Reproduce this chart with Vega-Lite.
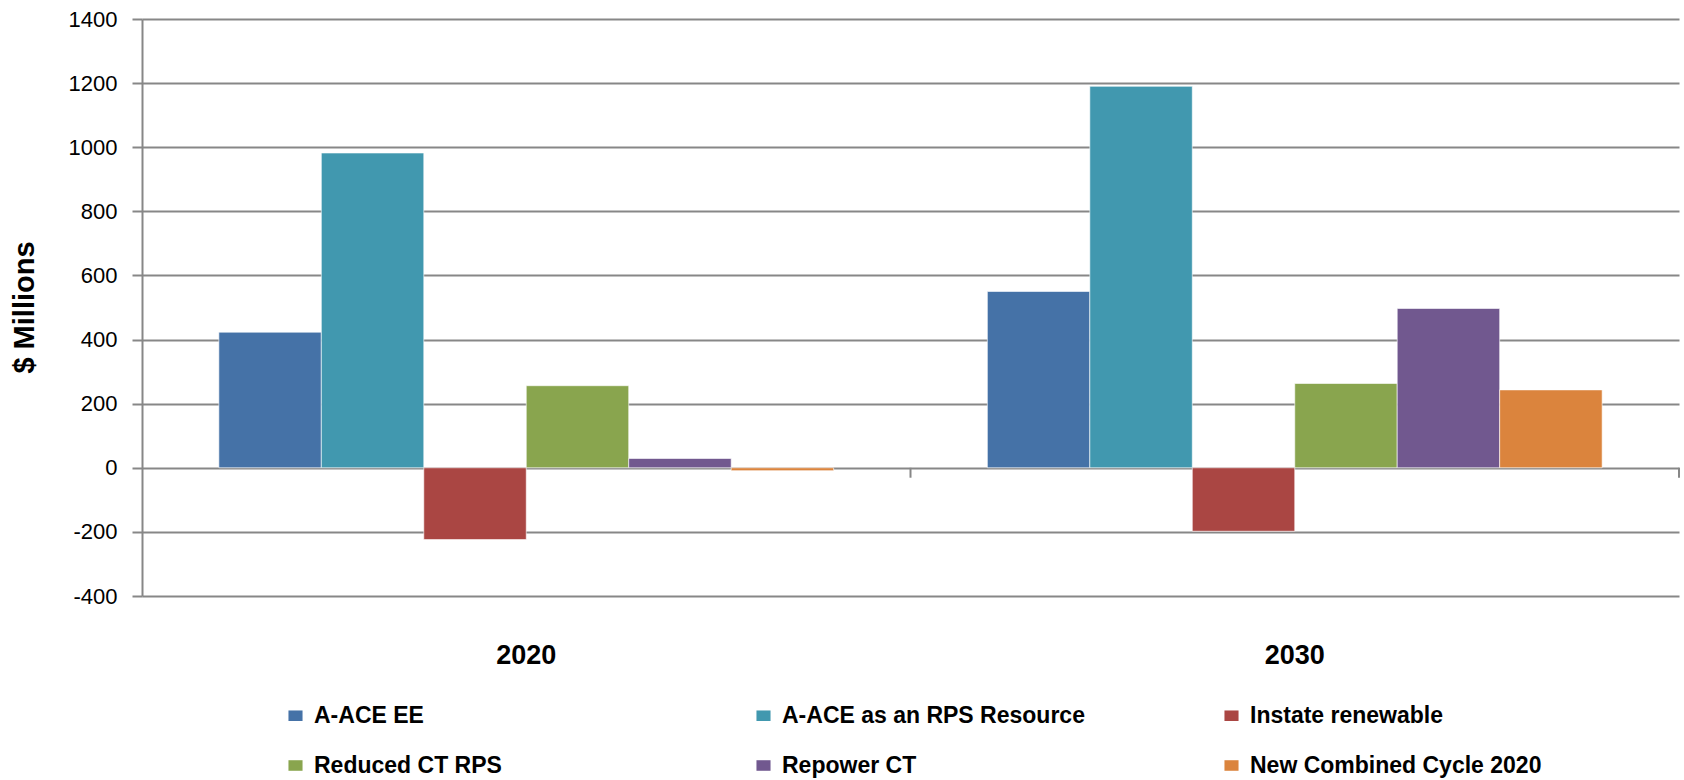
{
  "$schema": "https://vega.github.io/schema/vega-lite/v6.json",
  "width": 1537,
  "height": 577,
  "autosize": {"type": "none"},
  "padding": {"left": 142, "top": 19, "right": 5, "bottom": 184},
  "background": "white",
  "config": {
    "font": "Liberation Sans",
    "view": {"stroke": null},
    "axis": {"labelColor": "#000000", "titleColor": "#000000"},
    "axisX": {"domain": false, "ticks": false, "tickSize": 0, "grid": false, "labelPadding": 46, "labelFontSize": 27, "labelFontWeight": "bold", "labelAngle": 0}
  },
  "data": {
    "values": [
      {"year": "2020", "series": "A-ACE EE", "value": 423},
      {"year": "2020", "series": "A-ACE as an RPS Resource", "value": 982},
      {"year": "2020", "series": "Instate renewable", "value": -224},
      {"year": "2020", "series": "Reduced CT RPS", "value": 256},
      {"year": "2020", "series": "Repower CT", "value": 29},
      {"year": "2020", "series": "New Combined Cycle  2020", "value": -9},
      {"year": "2030", "series": "A-ACE EE", "value": 550},
      {"year": "2030", "series": "A-ACE as an RPS Resource", "value": 1190},
      {"year": "2030", "series": "Instate renewable", "value": -198},
      {"year": "2030", "series": "Reduced CT RPS", "value": 263},
      {"year": "2030", "series": "Repower CT", "value": 497},
      {"year": "2030", "series": "New Combined Cycle  2020", "value": 243}
    ]
  },
  "layer": [
    {
      "mark": {"type": "bar", "stroke": "#ffffff", "strokeWidth": 1, "strokeOpacity": 0.6},
      "encoding": {
        "x": {"field": "year", "type": "nominal", "title": null, "scale": {"paddingInner": 0.2, "paddingOuter": 0.1}},
        "xOffset": {"field": "series", "type": "nominal", "sort": ["A-ACE EE", "A-ACE as an RPS Resource", "Instate renewable", "Reduced CT RPS", "Repower CT", "New Combined Cycle  2020"], "scale": {"paddingInner": 0, "paddingOuter": 0}},
        "y": {
          "field": "value", "type": "quantitative", "title": "$ Millions",
          "scale": {"domain": [-400, 1400], "nice": false, "zero": false},
          "axis": {
            "values": [-400, -200, 0, 200, 400, 600, 800, 1000, 1200, 1400],
            "labelExpr": "datum.value + ''",
            "domainColor": "#878787", "domainWidth": 2,
            "tickColor": "#878787", "tickWidth": 2, "tickSize": 10,
            "gridColor": "#878787", "gridWidth": 2,
            "labelFontSize": 22, "labelPadding": 15,
            "titleFontSize": 29, "titleFontWeight": "bold",
            "titleX": -103, "titleY": 288
          }
        },
        "color": {
          "field": "series", "type": "nominal",
          "scale": {
            "domain": ["A-ACE EE", "A-ACE as an RPS Resource", "Instate renewable", "Reduced CT RPS", "Repower CT", "New Combined Cycle  2020"],
            "range": ["#4572A7", "#4198AF", "#AA4643", "#89A54E", "#71588F", "#DB843D"]
          },
          "legend": {
            "title": null, "orient": "none", "legendX": 142, "legendY": 685,
            "direction": "horizontal", "columns": 3, "columnPadding": 135, "rowPadding": 26,
            "gridAlign": "all", "padding": 0,
            "symbolType": "M-0.88,-0.66H0.88V0.66H-0.88Z", "symbolSize": 256, "symbolStrokeWidth": 0,
            "labelFontSize": 23, "labelFontWeight": "bold", "labelColor": "#000000", "labelOffset": 7, "labelLimit": 600
          }
        }
      }
    },
    {
      "data": {"values": [{"year": "2020"}, {"year": "2030"}]},
      "mark": {"type": "rule", "color": "#878787", "strokeWidth": 2},
      "encoding": {
        "x": {"field": "year", "type": "nominal", "bandPosition": 1.125, "title": null},
        "y": {"datum": 0},
        "y2": {"datum": -31}
      }
    }
  ]
}
